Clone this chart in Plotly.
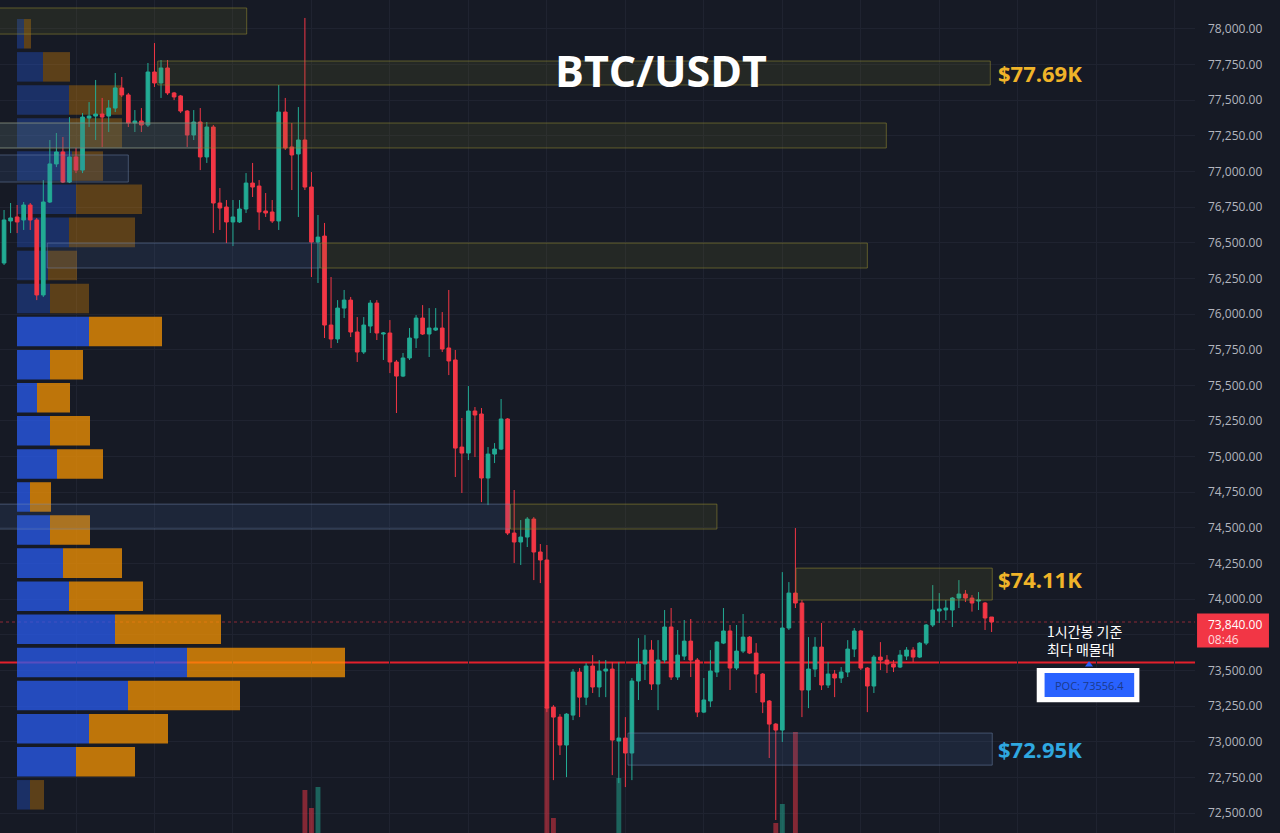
import plotly.graph_objects as go

# ---------------- data ----------------
candle_idx = list(range(153))
open_ = [76632, 76358, 76653, 76681, 76660, 76765, 76660, 76134, 76786, 77053,
         77137, 76926, 77102, 77010, 77375, 77389, 77403, 77389, 77445, 77586,
         77537, 77340, 77354, 77326, 77698, 77621, 77726, 77551, 77530, 77424,
         77256, 77347, 77102, 77312, 76779, 76751, 76646, 76646, 76737, 76919,
         76898, 76723, 76716, 76653, 77417, 77172, 77123, 77221, 76891, 76505,
         76547, 75923, 75825, 76042, 76098, 75874, 75734, 75916, 76077, 75860,
         75867, 75664, 75565, 75692, 75832, 75972, 75860, 75888, 75902, 75762,
         75678, 75067, 75025, 75320, 75299, 74850, 75018, 75053, 75264, 74464,
         74401, 74436, 74562, 74331, 74275, 73243, 73173, 72977, 73187, 73489,
         73313, 73531, 73384, 73496, 73510, 73005, 73026, 72921, 73426, 73545,
         73643, 73405, 73573, 73805, 73454, 73601, 73706, 73573, 73208, 73286,
         73489, 73692, 73777, 73517, 73636, 73734, 73622, 73475, 73286, 73124,
         73082, 73798, 74043, 73973, 73363, 73510, 73664, 73398, 73475, 73447,
         73489, 73650, 73777, 73517, 73391, 73594, 73573, 73545, 73524, 73601,
         73643, 73594, 73692, 73819, 73917, 73924, 73924, 74008, 74036, 74008,
         73987, 73973, 73875]
high = [76674, 76730, 76779, 76765, 76786, 76779, 76674, 76940, 77221, 77270,
        77242, 77382, 77165, 77410, 77487, 77642, 77516, 77501, 77691, 77663,
        77551, 77431, 77445, 77761, 77901, 77782, 77782, 77558, 77537, 77431,
        77431, 77445, 77347, 77326, 76884, 76800, 76800, 76800, 76989, 77060,
        76940, 76849, 76800, 77607, 77516, 77340, 77452, 78077, 76996, 76695,
        76639, 76260, 76098, 76169, 76120, 75979, 75979, 76098, 76098, 75874,
        75958, 75678, 75727, 75902, 75993, 76063, 76042, 76042, 76014, 76169,
        75748, 75271, 75495, 75348, 75341, 75067, 75095, 75404, 75271, 74766,
        74555, 74576, 74576, 74387, 74380, 73257, 73194, 73201, 73510, 73517,
        73552, 73608, 73573, 73573, 73559, 73559, 73173, 73447, 73727, 73748,
        73713, 73713, 73924, 73938, 73784, 73854, 73861, 73587, 73447, 73643,
        73706, 73938, 73819, 73819, 73896, 73741, 73692, 73482, 73293, 73131,
        74190, 74120, 74499, 73994, 73734, 73734, 73833, 73559, 73503, 73524,
        73713, 73798, 73784, 73524, 73608, 73699, 73608, 73573, 73643, 73664,
        73664, 73699, 73826, 74099, 74043, 73994, 74015, 74134, 74064, 74029,
        74050, 73980, 73875]
low = [76337, 76344, 76568, 76568, 76590, 76590, 76098, 76120, 76779, 77031,
       76919, 76919, 76989, 76989, 77312, 77221, 77172, 77277, 77417, 77523,
       77312, 77277, 77277, 77312, 77593, 77516, 77537, 77501, 77410, 77172,
       77221, 77010, 77060, 76568, 76590, 76498, 76477, 76639, 76709, 76821,
       76590, 76681, 76639, 76590, 77151, 76870, 76681, 76870, 76260, 76218,
       75832, 75762, 75797, 75972, 75839, 75664, 75720, 75867, 75818, 75678,
       75586, 75306, 75558, 75678, 75762, 75853, 75699, 75881, 75734, 75572,
       74857, 74745, 74976, 74997, 74681, 74660, 74955, 75046, 74450, 74254,
       74240, 74366, 74134, 74113, 73208, 72731, 72907, 72752, 73152, 73173,
       73257, 73342, 73313, 73313, 72766, 72710, 72682, 72731, 73293, 73433,
       73363, 73222, 73552, 73433, 73433, 73573, 73454, 73173, 73201, 73243,
       73454, 73685, 73363, 73503, 73622, 73615, 73342, 73201, 72886, 72451,
       72998, 73784, 73938, 73173, 73236, 73454, 73363, 73377, 73313, 73412,
       73454, 73594, 73503, 73208, 73342, 73503, 73482, 73489, 73517, 73573,
       73559, 73587, 73678, 73805, 73833, 73854, 73805, 73938, 73980, 73913,
       73924, 73784, 73770]
close = [76365, 76660, 76674, 76646, 76765, 76660, 76134, 76786, 77053, 77137,
         76926, 77102, 77010, 77382, 77389, 77403, 77382, 77445, 77586, 77537,
         77340, 77354, 77326, 77698, 77621, 77726, 77551, 77523, 77424, 77256,
         77347, 77102, 77312, 76779, 76744, 76646, 76681, 76737, 76919, 76891,
         76716, 76709, 76653, 77417, 77165, 77116, 77221, 76891, 76505, 76540,
         75923, 75825, 76042, 76098, 75874, 75734, 75923, 76077, 75867, 75867,
         75664, 75565, 75692, 75832, 75972, 75860, 75902, 75902, 75755, 75671,
         75060, 75025, 75320, 75292, 74850, 75018, 75053, 75264, 74464, 74401,
         74436, 74562, 74331, 74275, 73236, 73173, 72977, 73194, 73489, 73313,
         73531, 73384, 73496, 73510, 73012, 73026, 72921, 73426, 73545, 73643,
         73405, 73573, 73805, 73454, 73608, 73706, 73573, 73208, 73293, 73496,
         73699, 73777, 73517, 73636, 73734, 73622, 73475, 73279, 73124, 73082,
         73798, 74043, 73973, 73363, 73510, 73664, 73398, 73475, 73447, 73489,
         73650, 73777, 73517, 73391, 73594, 73573, 73545, 73524, 73608, 73643,
         73594, 73692, 73819, 73924, 73931, 73938, 74008, 74036, 74008, 73973,
         73994, 73868, 73840]

# volume (only bars tall enough to show at the bottom of the view)
vol_idx = [47, 48, 49, 84, 85, 95, 119, 120, 122]
vol_values = [860, 500, 920, 2520, 300, 1100, 200, 580, 2020]

# volume profile rows (price bin centres, up / down volume)
vp_price = [77966, 77734, 77502, 77270, 77038, 76805, 76573, 76341, 76109, 75877,
            75645, 75413, 75181, 74949, 74717, 74485, 74253, 74021, 73789, 73556,
            73324, 73092, 72860, 72628]
vp_up = [70, 260, 520, 530, 550, 590, 520, 310, 330, 720,
         330, 200, 330, 400, 130, 330, 460, 520, 980, 1700,
         1110, 720, 590, 130]
vp_down = [70, 270, 530, 520, 310, 660, 660, 290, 390, 730,
           330, 330, 400, 460, 210, 400, 590, 740, 1060, 1580,
           1120, 790, 590, 140]
vp_value_area = [False] * 9 + [True] * 14 + [False]

poc_price = 73556.4
last_price = 73840.00
countdown = "08:46"

# price axis ticks (the 73,750 label sits under the last-price tag)
tick_vals = [72500 + 250 * k for k in range(23)]
hidden_tick = 73750

# zones: (start candle, end candle, low price, high price, kind)
zones = [
    (0.0, 38.1, 77964, 78147, "olive"),
    (24.5, 151.8, 77607, 77775, "olive"),
    (0.0, 135.9, 77165, 77340, "olive"),
    (0.0, 31.0, 77165, 77340, "blue"),
    (0.0, 20.0, 76926, 77116, "blue"),
    (49.3, 133.0, 76323, 76498, "olive"),
    (7.6, 49.3, 76323, 76498, "blue"),
    (0.0, 78.4, 74492, 74667, "blue"),
    (78.4, 110.0, 74492, 74667, "olive"),
    (122.1, 152.1, 73994, 74218, "olive"),
    (96.4, 152.1, 72836, 73061, "blue"),
]
zone_labels = [("$77.69K", 77691, "#f0b429"), ("$74.11K", 74140, "#f0b429"),
               ("$72.95K", 72949, "#2fa8e0")]

# ---------------- style ----------------
BG = "#161a25"
GRID = "#1f2330"
GREEN = "#22ab94"
RED = "#f23645"

fig = go.Figure()

up_cols = ["rgba(41,92,240,0.75)" if v else "rgba(41,98,255,0.30)" for v in vp_value_area]
dn_cols = ["rgba(255,152,0,0.72)" if v else "rgba(255,152,0,0.30)" for v in vp_value_area]
fig.add_trace(go.Bar(orientation="h", y=vp_price, x=vp_up, base=[0] * len(vp_up), width=207,
                     marker=dict(color=up_cols, line=dict(width=0)), xaxis="x", yaxis="y",
                     hoverinfo="skip", showlegend=False))
fig.add_trace(go.Bar(orientation="h", y=vp_price, x=vp_down, base=vp_up, width=207,
                     marker=dict(color=dn_cols, line=dict(width=0)), xaxis="x", yaxis="y",
                     hoverinfo="skip", showlegend=False))

fig.add_trace(go.Candlestick(
    x=candle_idx, open=open_, high=high, low=low, close=close,
    xaxis="x2", yaxis="y", whiskerwidth=0,
    increasing=dict(line=dict(color=GREEN, width=1), fillcolor=GREEN),
    decreasing=dict(line=dict(color=RED, width=1), fillcolor=RED),
    hoverinfo="skip", showlegend=False))

vcols = ["rgba(34,171,148,0.5)" if close[i] >= open_[i] else "rgba(242,54,69,0.5)" for i in vol_idx]
fig.add_trace(go.Bar(x=vol_idx, y=vol_values, width=0.75, marker=dict(color=vcols, line=dict(width=0)),
                     xaxis="x2", yaxis="y2", hoverinfo="skip", showlegend=False))

fig.add_trace(go.Scatter(x=[166.9], y=[73540], mode="markers", xaxis="x2", yaxis="y",
                         marker=dict(symbol="triangle-up", size=7, color="#2962ff"),
                         hoverinfo="skip", showlegend=False))

shapes = []
shapes.append(dict(type="line", xref="paper", yref="y", x0=0, x1=1, y0=poc_price, y1=poc_price,
                   line=dict(color="#e3202c", width=2), layer="below"))
shapes.append(dict(type="line", xref="paper", yref="y", x0=0, x1=1, y0=last_price, y1=last_price,
                   line=dict(color="rgba(242,54,69,0.55)", width=1, dash="dot"), layer="below"))
for x0, x1, p0, p1, kind in zones:
    if kind == "olive":
        fc, lc = "rgba(120,120,40,0.15)", "rgba(150,140,50,0.55)"
    else:
        fc, lc = "rgba(70,105,160,0.16)", "rgba(120,145,185,0.45)"
    shapes.append(dict(type="rect", xref="x2", yref="y", x0=x0, x1=x1, y0=p0, y1=p1,
                       fillcolor=fc, line=dict(color=lc, width=1), layer="above"))
shapes.append(dict(type="rect", xref="x2", yref="y", x0=158.9, x1=174.6, y0=73278, y1=73517,
                   fillcolor="#ffffff", line=dict(width=0), layer="above"))
shapes.append(dict(type="rect", xref="x2", yref="y", x0=160.1, x1=173.8, y0=73314, y1=73482,
                   fillcolor="#2962ff", line=dict(width=0), layer="above"))
shapes.append(dict(type="rect", xref="paper", yref="y", x0=1.0017, x1=1.0619, y0=73661, y1=73899,
                   fillcolor=RED, line=dict(width=0), layer="above"))

annotations = [
    dict(xref="x2", yref="y", x=101.45, y=77712, text="<b>BTC/USDT</b>", showarrow=False,
         font=dict(family="Open Sans", size=43, color="#ffffff"), xanchor="center", yanchor="middle"),
]
for txt, p, col in zone_labels:
    annotations.append(dict(xref="x2", yref="y", x=152.6, y=p, text=f"<b>{txt}</b>", showarrow=False,
                            font=dict(family="Open Sans", size=22, color=col),
                            xanchor="left", yanchor="middle"))
annotations.append(dict(xref="x2", yref="y", x=160.1, y=73713, text="1시간봉 기준<br>최다 매물대",
                        showarrow=False, align="left", xanchor="left", yanchor="middle",
                        font=dict(family="Noto Sans CJK KR", size=14, color="#ffffff")))
annotations.append(dict(xref="x2", yref="y", x=166.9, y=73398, text=f"POC: {poc_price}",
                        showarrow=False, xanchor="center", yanchor="middle",
                        font=dict(family="Open Sans", size=11, color="#1b3a8c")))
annotations.append(dict(xref="paper", yref="y", x=1.0095, y=73826, text=f"{last_price:,.2f}",
                        showarrow=False, xanchor="left", yanchor="middle",
                        font=dict(family="Open Sans", size=12, color="#ffffff")))
annotations.append(dict(xref="paper", yref="y", x=1.0095, y=73714, text=countdown,
                        showarrow=False, xanchor="left", yanchor="middle",
                        font=dict(family="Open Sans", size=12, color="#ffd9dc")))

fig.update_layout(
    width=1280, height=833,
    margin=dict(l=0, r=85, t=0, b=0, pad=0),
    paper_bgcolor=BG, plot_bgcolor=BG,
    barmode="overlay", boxgap=0.2,
    showlegend=False,
    xaxis=dict(range=[-170, 11780], visible=False, fixedrange=True),
    xaxis2=dict(overlaying="x", anchor="y", range=[0.38, 183.1], showgrid=True, gridcolor=GRID,
                gridwidth=1, tick0=0, dtick=12, showticklabels=False, ticks="", zeroline=False,
                showline=False, rangeslider=dict(visible=False)),
    yaxis=dict(range=[72360, 78203], side="right", tickmode="array", tickvals=tick_vals,
               ticktext=["" if v == hidden_tick else f"{v:,.2f}" for v in tick_vals],
               showgrid=True, gridcolor=GRID, zeroline=False, showline=False, ticks="",
               ticklabelstandoff=12,
               tickfont=dict(family="Open Sans", size=12, color="#b2b5be")),
    yaxis2=dict(overlaying="y", range=[0, 16660], visible=False),
    shapes=shapes, annotations=annotations,
)

fig.write_html("out.html", config={"displayModeBar": False},
               post_script="document.body.style.margin='0px';document.body.style.background='%s';" % BG)
